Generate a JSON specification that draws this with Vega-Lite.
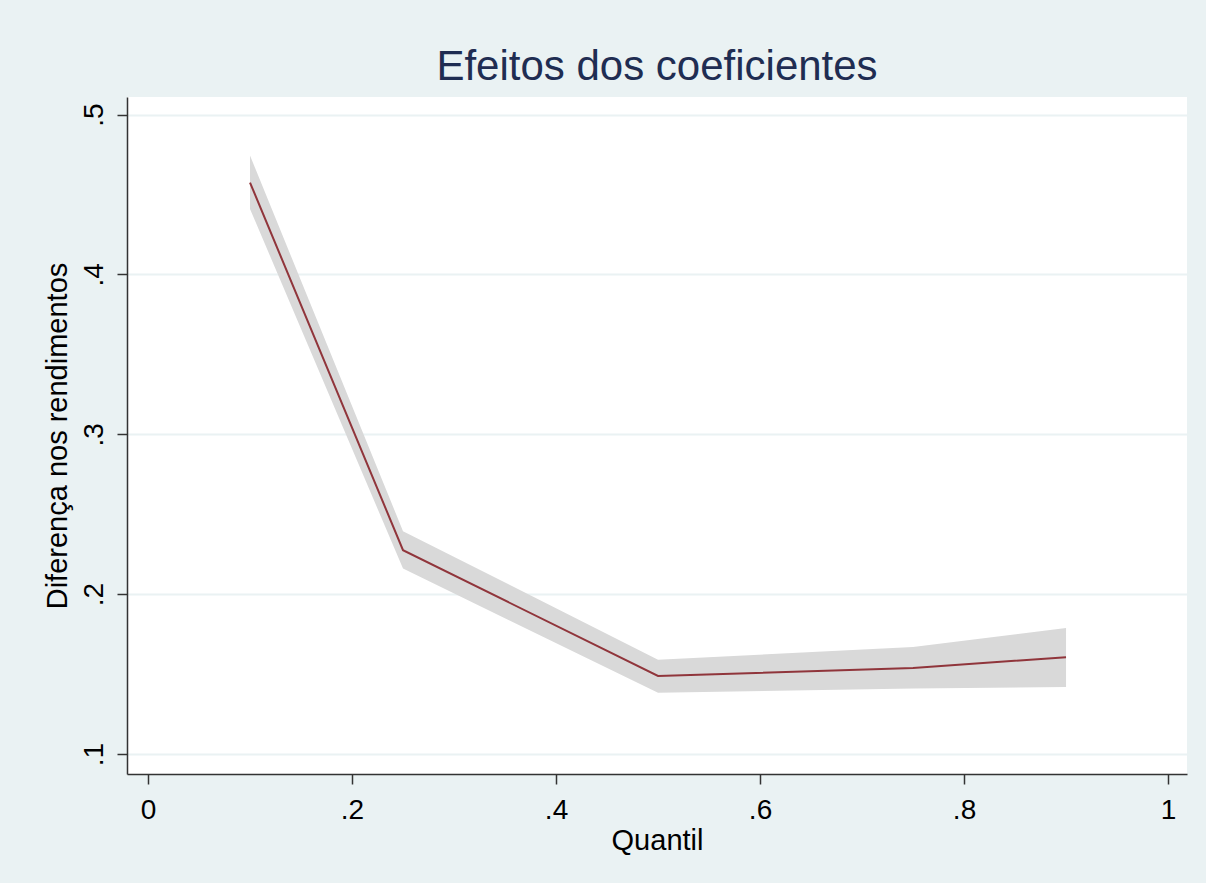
{
  "$schema": "https://vega.github.io/schema/vega-lite/v6.json",
  "width": 1060,
  "height": 677,
  "autosize": {"type": "none"},
  "padding": {"left": 127, "top": 97, "right": 19, "bottom": 109},
  "background": "#EAF2F3",
  "config": {
    "view": {"fill": "white", "stroke": null},
    "font": "Liberation Sans"
  },
  "title": {
    "text": "Efeitos dos coeficientes",
    "font": "Liberation Sans",
    "fontSize": 42,
    "fontWeight": "normal",
    "color": "#1F2D52",
    "anchor": "middle",
    "frame": "group",
    "baseline": "alphabetic",
    "offset": -25
  },
  "data": {
    "values": [
      {"q": 0.1, "coef": 0.4575, "lo": 0.441, "hi": 0.4744},
      {"q": 0.25, "coef": 0.2275, "lo": 0.216, "hi": 0.2394},
      {"q": 0.5, "coef": 0.1488, "lo": 0.1383, "hi": 0.159},
      {"q": 0.75, "coef": 0.1538, "lo": 0.141, "hi": 0.1669},
      {"q": 0.9, "coef": 0.1606, "lo": 0.142, "hi": 0.1788}
    ]
  },
  "encoding": {
    "x": {
      "field": "q",
      "type": "quantitative",
      "scale": {"domain": [-0.0206, 1.0186], "nice": false, "zero": false},
      "axis": {
        "title": "Quantil",
        "values": [0, 0.2, 0.4, 0.6, 0.8, 1],
        "labelExpr": "datum.value == 0 || datum.value == 1 ? format(datum.value, 'd') : replace(format(datum.value, '.1f'), '0.', '.')",
        "grid": false,
        "domainColor": "#333333",
        "domainWidth": 1.5,
        "tickColor": "#333333",
        "tickWidth": 1.5,
        "tickSize": 10,
        "labelFontSize": 28,
        "labelColor": "#000000",
        "labelPadding": 12,
        "labelFlush": false,
        "titleFontSize": 29,
        "titleFontWeight": "normal",
        "titleColor": "#000000",
        "titlePadding": 2
      }
    }
  },
  "layer": [
    {
      "mark": {"type": "area", "color": "#D9D9D9", "opacity": 1},
      "encoding": {
        "y": {
          "field": "lo",
          "type": "quantitative",
          "scale": {"domain": [0.0875, 0.511], "nice": false, "zero": false},
          "axis": {
            "title": "Diferença nos rendimentos",
            "values": [0.1, 0.2, 0.3, 0.4, 0.5],
            "labelExpr": "replace(format(datum.value, '.1f'), '0.', '.')",
            "grid": true,
            "gridColor": "#EAF2F3",
            "gridWidth": 2,
            "domainColor": "#333333",
            "domainWidth": 1.5,
            "tickColor": "#333333",
            "tickWidth": 1.5,
            "tickSize": 10,
            "labelFontSize": 28,
            "labelColor": "#000000",
            "labelAngle": -90,
            "labelAlign": "center",
            "labelBaseline": "alphabetic",
            "labelPadding": 15,
            "labelFlush": false,
            "titleFontSize": 29,
            "titleFontWeight": "normal",
            "titleColor": "#000000",
            "titlePadding": 8
          }
        },
        "y2": {"field": "hi"}
      }
    },
    {
      "mark": {"type": "line", "color": "#90353B", "strokeWidth": 2},
      "encoding": {
        "y": {"field": "coef", "type": "quantitative"}
      }
    }
  ]
}
